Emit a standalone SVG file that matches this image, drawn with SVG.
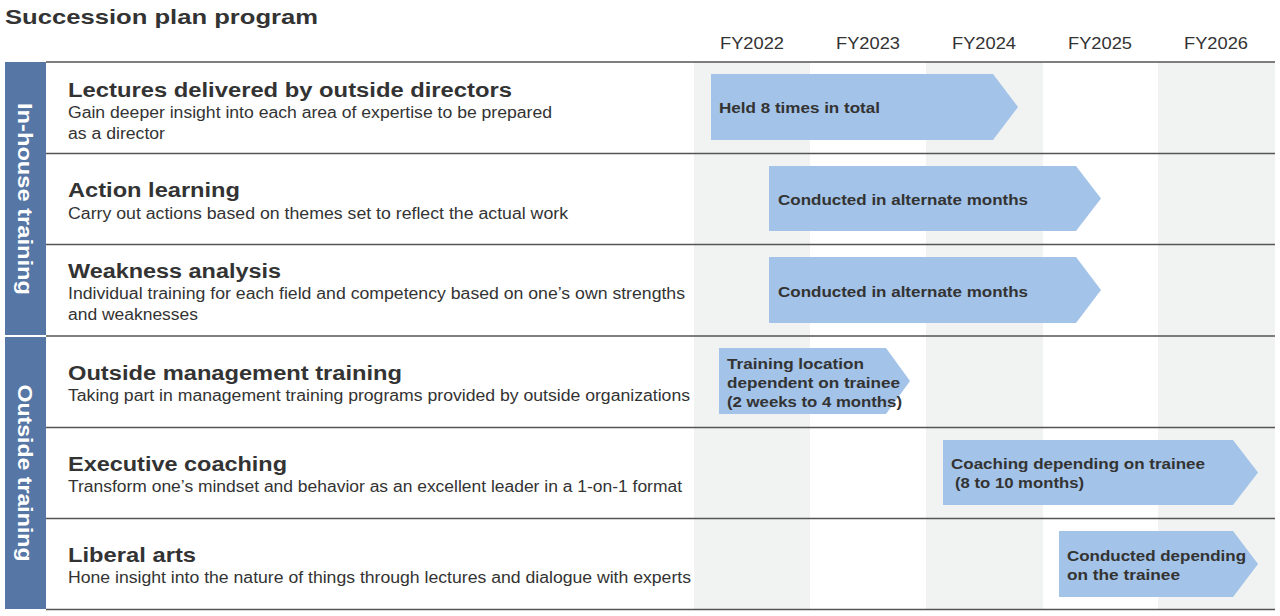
<svg xmlns="http://www.w3.org/2000/svg" width="1280" height="616" viewBox="0 0 1280 616">
<style>
text{font-family:"Liberation Sans",Arial,sans-serif;fill:#333}
.ttl{font-size:21px;font-weight:bold}
.h{font-size:20px;font-weight:bold}
.d{font-size:16px}
.fy{font-size:17px}
.a{font-size:15px;font-weight:bold}
.band{fill:#5677a5}
.bt{font-size:20px;font-weight:bold;fill:#fff}
.col{fill:#f1f3f2}
.arr{fill:#a3c3e8}
.rule{stroke:#555;stroke-width:1.5;fill:none}
</style>
<rect width="1280" height="616" fill="#fff"/>
<text class="ttl" x="5" y="24" textLength="313" lengthAdjust="spacingAndGlyphs">Succession plan program</text>
<g id="columns">
<rect class="col" x="694" y="62" width="116" height="547"/>
<rect class="col" x="926" y="62" width="117" height="547"/>
<rect class="col" x="1158" y="62" width="117" height="547"/>
<text class="fy" x="752" y="49" text-anchor="middle" textLength="64" lengthAdjust="spacingAndGlyphs">FY2022</text>
<text class="fy" x="868" y="49" text-anchor="middle" textLength="64" lengthAdjust="spacingAndGlyphs">FY2023</text>
<text class="fy" x="984" y="49" text-anchor="middle" textLength="64" lengthAdjust="spacingAndGlyphs">FY2024</text>
<text class="fy" x="1100" y="49" text-anchor="middle" textLength="64" lengthAdjust="spacingAndGlyphs">FY2025</text>
<text class="fy" x="1216" y="49" text-anchor="middle" textLength="64" lengthAdjust="spacingAndGlyphs">FY2026</text>
</g>
<g id="bands">
<rect class="band" x="5" y="62" width="41" height="273"/>
<rect class="band" x="5" y="337" width="41" height="272"/>
<text class="bt" transform="translate(18,199) rotate(90)" text-anchor="middle" textLength="192" lengthAdjust="spacingAndGlyphs">In-house training</text>
<text class="bt" transform="translate(18,473) rotate(90)" text-anchor="middle" textLength="177" lengthAdjust="spacingAndGlyphs">Outside training</text>
</g>
<g id="rules">
<line class="rule" x1="46" y1="62" x2="1275" y2="62"/>
<line class="rule" x1="46" y1="153.5" x2="1275" y2="153.5"/>
<line class="rule" x1="46" y1="244.5" x2="1275" y2="244.5"/>
<line class="rule" x1="46" y1="336" x2="1275" y2="336"/>
<line class="rule" x1="46" y1="427.5" x2="1275" y2="427.5"/>
<line class="rule" x1="46" y1="518.5" x2="1275" y2="518.5"/>
<line class="rule" x1="46" y1="609.5" x2="1275" y2="609.5"/>
</g>
<g id="row1">
<text class="h" x="68" y="97" textLength="444" lengthAdjust="spacingAndGlyphs">Lectures delivered by outside directors</text>
<text class="d" x="68" y="118" textLength="484" lengthAdjust="spacingAndGlyphs">Gain deeper insight into each area of expertise to be prepared</text>
<text class="d" x="68" y="139" textLength="97" lengthAdjust="spacingAndGlyphs">as a director</text>
<polygon class="arr" points="711,74 993,74 1018,107 993,140 711,140"/>
<text class="a" x="719" y="113" textLength="161" lengthAdjust="spacingAndGlyphs">Held 8 times in total</text>
</g>
<g id="row2">
<text class="h" x="68" y="197" textLength="172" lengthAdjust="spacingAndGlyphs">Action learning</text>
<text class="d" x="68" y="219" textLength="500" lengthAdjust="spacingAndGlyphs">Carry out actions based on themes set to reflect the actual work</text>
<polygon class="arr" points="769,166 1076,166 1101,198.5 1076,231 769,231"/>
<text class="a" x="778" y="205" textLength="250" lengthAdjust="spacingAndGlyphs">Conducted in alternate months</text>
</g>
<g id="row3">
<text class="h" x="68" y="278" textLength="213" lengthAdjust="spacingAndGlyphs">Weakness analysis</text>
<text class="d" x="68" y="299" textLength="617" lengthAdjust="spacingAndGlyphs">Individual training for each field and competency based on one’s own strengths</text>
<text class="d" x="68" y="320" textLength="130" lengthAdjust="spacingAndGlyphs">and weaknesses</text>
<polygon class="arr" points="769,257 1076,257 1101,290 1076,323 769,323"/>
<text class="a" x="778" y="297" textLength="250" lengthAdjust="spacingAndGlyphs">Conducted in alternate months</text>
</g>
<g id="row4">
<text class="h" x="68" y="380" textLength="334" lengthAdjust="spacingAndGlyphs">Outside management training</text>
<text class="d" x="68" y="401" textLength="622" lengthAdjust="spacingAndGlyphs">Taking part in management training programs provided by outside organizations</text>
<polygon class="arr" points="719,348 886,348 910,381 886,414 719,414"/>
<text class="a" x="727" y="369" textLength="137" lengthAdjust="spacingAndGlyphs">Training location</text>
<text class="a" x="727" y="388" textLength="173" lengthAdjust="spacingAndGlyphs">dependent on trainee</text>
<text class="a" x="727" y="407" textLength="175" lengthAdjust="spacingAndGlyphs">(2 weeks to 4 months)</text>
</g>
<g id="row5">
<text class="h" x="68" y="471" textLength="219" lengthAdjust="spacingAndGlyphs">Executive coaching</text>
<text class="d" x="68" y="492" textLength="614" lengthAdjust="spacingAndGlyphs">Transform one’s mindset and behavior as an excellent leader in a 1-on-1 format</text>
<polygon class="arr" points="943,440 1233,440 1258,472.5 1233,505 943,505"/>
<text class="a" x="951" y="469" textLength="254" lengthAdjust="spacingAndGlyphs">Coaching depending on trainee</text>
<text class="a" x="955" y="488" textLength="129" lengthAdjust="spacingAndGlyphs">(8 to 10 months)</text>
</g>
<g id="row6">
<text class="h" x="68" y="562" textLength="128" lengthAdjust="spacingAndGlyphs">Liberal arts</text>
<text class="d" x="68" y="583" textLength="623" lengthAdjust="spacingAndGlyphs">Hone insight into the nature of things through lectures and dialogue with experts</text>
<polygon class="arr" points="1059,531 1233,531 1258,564 1233,597 1059,597"/>
<text class="a" x="1067" y="561" textLength="179" lengthAdjust="spacingAndGlyphs">Conducted depending</text>
<text class="a" x="1067" y="580" textLength="113" lengthAdjust="spacingAndGlyphs">on the trainee</text>
</g>
</svg>
